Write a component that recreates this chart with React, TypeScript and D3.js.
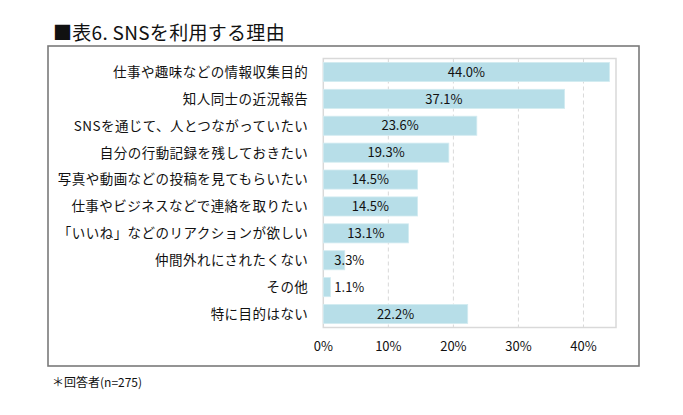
import React from "react";
import * as d3 from "d3";

const title = "■表6. SNSを利用する理由";
const categories = [
  "仕事や趣味などの情報収集目的",
  "知人同士の近況報告",
  "SNSを通じて、人とつながっていたい",
  "自分の行動記録を残しておきたい",
  "写真や動画などの投稿を見てもらいたい",
  "仕事やビジネスなどで連絡を取りたい",
  "「いいね」などのリアクションが欲しい",
  "仲間外れにされたくない",
  "その他",
  "特に目的はない",
];
const values = [44.0, 37.1, 23.6, 19.3, 14.5, 14.5, 13.1, 3.3, 1.1, 22.2];
const ticks = [0, 10, 20, 30, 40];
const footnote = "＊回答者(n=275)";

const W = 683;
const H = 415;
const FONT = "'Noto Sans CJK JP', 'Noto Sans', sans-serif";

export default function App() {
  const plot = { left: 323.3, right: 616, top: 58.5, bottom: 327.5 };
  const x = d3.scaleLinear().domain([0, 45]).range([plot.left, plot.right]);
  const y = d3
    .scaleBand<string>()
    .domain(categories)
    .range([plot.top, plot.bottom])
    .paddingInner(0.29)
    .paddingOuter(0.145);

  return (
    <div style={{ position: "absolute", left: 0, top: 0 }}>
      <svg width={W} height={H} style={{ display: "block", background: "#fff" }} fontFamily={FONT}>
        <text x={53} y={40} fontSize={19} fill="#111" fontWeight={400} letterSpacing={0.3}>
          {title}
        </text>
        {/* outer frame */}
        <rect x={48} y={46} width={591} height={320} fill="#fff" stroke="#7a7a7a" strokeWidth={1.6} />
        {/* gridlines */}
        {ticks.slice(1).map((t) => (
          <line
            key={t}
            x1={x(t)}
            x2={x(t)}
            y1={plot.top}
            y2={plot.bottom}
            stroke="#d9d9d9"
            strokeWidth={1}
            strokeDasharray="4,3"
          />
        ))}
        {/* plot border */}
        <rect
          x={plot.left}
          y={plot.top}
          width={plot.right - plot.left}
          height={plot.bottom - plot.top}
          fill="none"
          stroke="#d9d9d9"
          strokeWidth={1.5}
        />
        {/* bars */}
        {categories.map((c, i) => (
          <rect
            key={c}
            x={x(0)}
            y={y(c)}
            width={x(values[i]) - x(0)}
            height={y.bandwidth()}
            fill="#b7dee8"
            stroke="#d2ebf1"
            strokeWidth={0.8}
          />
        ))}
        {/* category labels */}
        {categories.map((c) => (
          <text
            key={c}
            x={x(0) - 15}
            y={(y(c) as number) + y.bandwidth() / 2}
            dy="0.36em"
            textAnchor="end"
            fontSize={13.5}
            letterSpacing={0.45}
            fill="#111"
          >
            {c}
          </text>
        ))}
        {/* value labels */}
        {categories.map((c, i) => {
          const small = values[i] < 5;
          const cx = small ? x(0) + 11 : (x(0) + x(values[i])) / 2;
          return (
            <text
              key={c}
              x={cx}
              y={(y(c) as number) + y.bandwidth() / 2}
              dy="0.36em"
              textAnchor={small ? "start" : "middle"}
              fontSize={13}
              fill="#111"
            >
              {values[i].toFixed(1) + "%"}
            </text>
          );
        })}
        {/* x tick labels */}
        {ticks.map((t) => (
          <text key={t} x={x(t)} y={346.7} dy="0.36em" textAnchor="middle" fontSize={13} fill="#111">
            {t + "%"}
          </text>
        ))}
        <text x={52} y={383} dy="0.36em" fontSize={12} fill="#111">
          {footnote}
        </text>
      </svg>
    </div>
  );
}
